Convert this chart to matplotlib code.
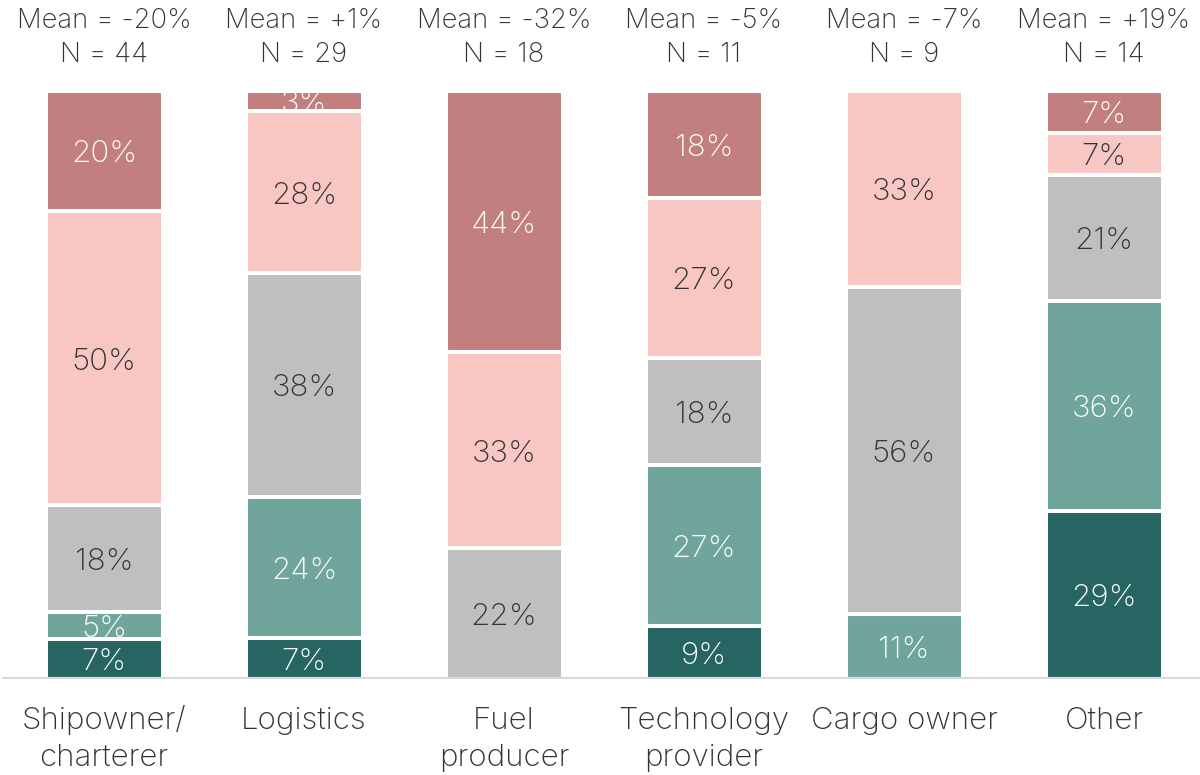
import matplotlib
matplotlib.use("Agg")
import matplotlib.pyplot as plt
from matplotlib.transforms import Bbox, TransformedBbox, blended_transform_factory

# respondents per answer, bottom to top of each bar
categories = ["Shipowner/\ncharterer", "Logistics", "Fuel\nproducer",
              "Technology\nprovider", "Cargo owner", "Other"]
means = ["-20%", "+1%", "-32%", "-5%", "-7%", "+19%"]
n_resp = [44, 29, 18, 11, 9, 14]
dark_teal = [3, 2, 0, 1, 0, 4]
teal = [2, 7, 0, 3, 1, 5]
grey = [8, 11, 4, 2, 5, 3]
pink = [22, 8, 6, 3, 3, 1]
rose = [9, 1, 8, 2, 0, 1]

series = [dark_teal, teal, grey, pink, rose]
colors = ["#276563", "#6fa59b", "#bfbfbf", "#f8c7c3", "#c27f7f"]
txt_colors = ["white", "white", "#333333", "#333333", "white"]

plt.rcParams['font.family'] = ['Inter', 'DejaVu Sans']
fig = plt.figure(figsize=(12, 7.75), dpi=100)
ax = fig.add_axes([0, 1 - 679 / 775, 1, 588 / 775])
ax.set_xlim(-0.52, 5.48)
ax.set_ylim(0, 1)
ax.axis("off")

fs = 22.5
w = 0.585
for i in range(len(categories)):
    bottom = 0.0
    for s, col, tc in zip(series, colors, txt_colors):
        frac = s[i] / n_resp[i]
        if frac == 0:
            continue
        ax.bar(i, frac, w, bottom=bottom, color=col, edgecolor="white", linewidth=2.9)
        t = ax.annotate(f"{round(frac * 100)}%", (i, bottom + frac / 2), xytext=(0, -0.727 * fs / 2),
                        textcoords="offset points", ha="center", va="baseline",
                        fontsize=fs, color=tc, fontweight="light")
        t.set_clip_box(TransformedBbox(Bbox([[i - w / 2, bottom + 0.003], [i + w / 2, bottom + frac - 0.003]]),
                                       ax.transData))
        t.set_clip_on(True)
        bottom += frac

ax.axhline(0, xmin=0.003, xmax=1, color="#d9d9d9", linewidth=3, zorder=5)

tr = blended_transform_factory(ax.transData, fig.transFigure)
for i in range(len(categories)):
    ax.text(i, 1 - 28.5 / 775, f"Mean = {means[i]}", ha="center", va="baseline", fontsize=19.8,
            color="#333333", fontweight="light", transform=tr, clip_on=False)
    ax.text(i, 1 - 62.5 / 775, f"N = {n_resp[i]}", ha="center", va="baseline", fontsize=19.8,
            color="#333333", fontweight="light", transform=tr, clip_on=False)
    for k, line in enumerate(categories[i].split("\n")):
        ax.text(i, 1 - (729 + 37 * k) / 775, line, ha="center", va="baseline", fontsize=fs,
                color="#333333", fontweight="light", transform=tr, clip_on=False)

fig.savefig("out.png", dpi=100)
